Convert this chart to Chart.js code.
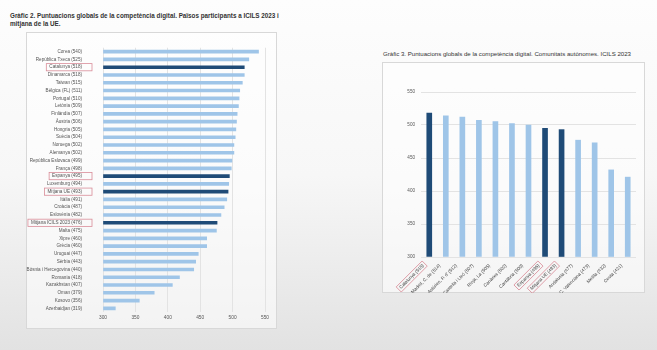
<!DOCTYPE html>
<html>
<head>
<meta charset="utf-8">
<script src="https://cdn.jsdelivr.net/npm/chart.js"></script>
<style>
  html, body { margin: 0; padding: 0; }
  body {
    width: 657px; height: 350px; position: relative; overflow: hidden;
    background: linear-gradient(to bottom, #fdfdfd 0%, #f7f7f7 50%, #e2e2e2 100%);
    font-family: "Liberation Sans", Arial, sans-serif;
  }
  .title { position: absolute; color: #333; line-height: 8px; white-space: nowrap; }
  #t1 { left: 10px; top: 12px; font-weight: bold; font-size: 6.3px; }
  #t2 { left: 383px; top: 50px; font-size: 6.1px; }
  .box { position: absolute; background: rgba(255,255,255,0.55); border: 1px solid #d8d8d8; box-sizing: border-box; }
  #b1 { left: 26px; top: 32px; width: 251px; height: 297px; }
  #b2 { left: 382px; top: 62px; width: 263px; height: 231px; }
  canvas { position: absolute; }
  #c1 { left: 26px; top: 32px; }
  #c2 { left: 382px; top: 62px; }
</style>
</head>
<body>
<div class="title" id="t1">Gràfic 2. Puntuacions globals de la competència digital. Països participants a ICILS 2023 i<br>mitjana de la UE.</div>
<div class="title" id="t2">Gràfic 3. Puntuacions globals de la competència digital. Comunitats autònomes. ICILS 2023</div>
<div class="box" id="b1"></div>
<div class="box" id="b2"></div>
<canvas id="c1" width="250" height="296"></canvas>
<canvas id="c2" width="263" height="231"></canvas>
<script>
// Gràfic 2: països
const countries = ['Corea', 'República Txeca', 'Catalunya', 'Dinamarca', 'Taiwan', 'Bèlgica (FL)', 'Portugal',
  'Letònia', 'Finlàndia', 'Àustria', 'Hongria', 'Suècia', 'Noruega', 'Alemanya', 'República Eslovaca',
  'França', 'Espanya', 'Luxemburg', 'Mitjana UE', 'Itàlia', 'Croàcia', 'Eslovènia', 'Mitjana ICILS 2023',
  'Malta', 'Xipre', 'Grècia', 'Uruguai', 'Sèrbia', 'Bòsnia i Hercegovina', 'Romania', 'Kazakhstan',
  'Oman', 'Kosovo', 'Azerbaidjan'];
const countryScores = [540, 525, 518, 518, 515, 511, 510, 509, 507, 506, 505, 504, 502, 502, 499,
  498, 495, 494, 493, 491, 487, 482, 476, 475, 460, 460, 447, 443, 440, 418, 407, 379, 356, 319];

// Gràfic 3: comunitats autònomes
const regions = ['Catalunya', 'Madrid, C. de', "Astúries, P. d'", 'Castella i Lleó', 'Rioja, La', 'Canàries',
  'Cantàbria', 'Espanya', 'Mitjana UE', 'Andalusia', 'C. Valenciana', 'Melilla', 'Ceuta'];
const regionScores = [518, 514, 512, 507, 505, 502, 500, 495, 493, 477, 473, 432, 421];

const highlighted = ['Catalunya', 'Espanya', 'Mitjana UE', 'Mitjana ICILS 2023'];
const scoreMin = 300;
const scoreMax = 550;
const scoreStep = 50;

const lightBlue = '#9fc5e8';
const darkBlue = '#1f4b77';
const fontFamily = '"Liberation Sans", Arial, sans-serif';

function withScore(names, scores) {
  return names.map((n, i) => `${n} (${scores[i]})`);
}
function barColors(names) {
  return names.map(n => highlighted.includes(n) ? darkBlue : lightBlue);
}

// red frame around the highlighted tick labels
const labelFrames = {
  id: 'labelFrames',
  afterDraw(chart, args, opts) {
    const scale = chart.scales[opts.axis];
    const items = scale.getLabelItems();
    const ctx = chart.ctx;
    items.forEach((item, i) => {
      if (!highlighted.includes(opts.names[i])) return;
      const o = item.options;
      ctx.save();
      ctx.font = item.font.string;
      const w = ctx.measureText(item.label).width;
      const h = item.font.size + 2.6;
      ctx.translate(o.translation[0], o.translation[1]);
      ctx.rotate(o.rotation);
      ctx.strokeStyle = '#d98c98';
      ctx.lineWidth = 0.8;
      ctx.strokeRect(-w - opts.padLeft, item.textOffset - h / 2, w + opts.padLeft + opts.padRight, h);
      ctx.restore();
    });
  }
};

new Chart(document.getElementById('c1'), {
  type: 'bar',
  data: {
    labels: withScore(countries, countryScores),
    datasets: [{
      data: countryScores,
      base: scoreMin,
      backgroundColor: barColors(countries),
      barThickness: 3
    }]
  },
  options: {
    indexAxis: 'y',
    responsive: false,
    animation: false,
    layout: { padding: { top: 7, right: 11, left: 0, bottom: 0 } },
    plugins: {
      legend: { display: false },
      tooltip: { enabled: false },
      labelFrames: { axis: 'y', names: countries, padLeft: 3, padRight: 10 }
    },
    scales: {
      x: {
        min: scoreMin, max: scoreMax,
        ticks: { stepSize: scoreStep, padding: 3, color: '#555', font: { size: 4.8, family: fontFamily } },
        grid: { color: '#e3e3e3', drawTicks: false },
        border: { display: false },
        afterFit: s => { s.height = 12; }
      },
      y: {
        ticks: { autoSkip: false, padding: 13, color: '#555', font: { size: 4.6, family: fontFamily } },
        grid: { display: false },
        border: { display: false },
        afterFit: s => { s.width = 77; }
      }
    }
  },
  plugins: [labelFrames]
});

new Chart(document.getElementById('c2'), {
  type: 'bar',
  data: {
    labels: withScore(regions, regionScores),
    datasets: [{
      data: regionScores,
      base: scoreMin,
      backgroundColor: barColors(regions),
      barThickness: 5
    }]
  },
  options: {
    responsive: false,
    animation: false,
    layout: { padding: { top: 30, right: 9, left: 0, bottom: 0 } },
    plugins: {
      legend: { display: false },
      tooltip: { enabled: false },
      labelFrames: { axis: 'x', names: regions, padLeft: 2, padRight: 2 }
    },
    scales: {
      x: {
        ticks: { autoSkip: false, minRotation: 45, maxRotation: 45, padding: -2, labelOffset: -6,
          color: '#444', font: { size: 4.6, family: fontFamily } },
        grid: { display: false },
        border: { display: false },
        afterFit: s => { s.height = 36; }
      },
      y: {
        min: scoreMin, max: scoreMax,
        ticks: { stepSize: scoreStep, padding: 6, color: '#555', font: { size: 4.6, family: fontFamily } },
        grid: { color: '#e3e3e3', drawTicks: false },
        border: { display: false },
        afterFit: s => { s.width = 39; }
      }
    }
  },
  plugins: [labelFrames]
});
</script>
</body>
</html>
